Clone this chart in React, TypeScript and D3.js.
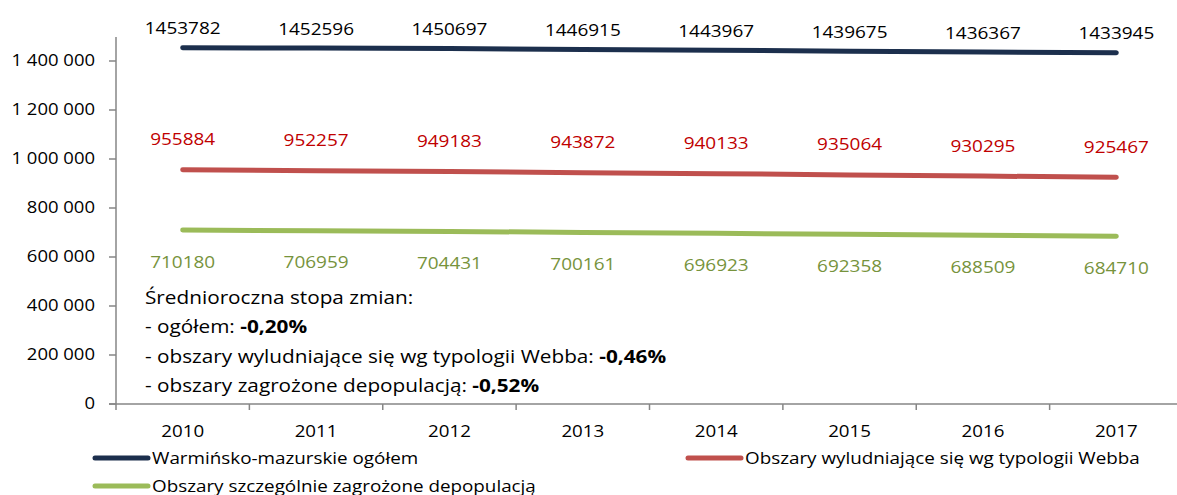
import React from 'react';
import * as d3 from 'd3';

const years = ['2010', '2011', '2012', '2013', '2014', '2015', '2016', '2017'];
const ogolem = [1453782, 1452596, 1450697, 1446915, 1443967, 1439675, 1436367, 1433945];
const webba = [955884, 952257, 949183, 943872, 940133, 935064, 930295, 925467];
const zagrozone = [710180, 706959, 704431, 700161, 696923, 692358, 688509, 684710];
const yTicks = [0, 200000, 400000, 600000, 800000, 1000000, 1200000, 1400000];

const seriesNames = [
  'Warmińsko-mazurskie ogółem',
  'Obszary wyludniające się wg typologii Webba',
  'Obszary szczególnie zagrożone depopulacją',
];
const noteLines = [
  { text: 'Średnioroczna stopa zmian:', bold: '' },
  { text: '- ogółem: ', bold: '-0,20%' },
  { text: '- obszary wyludniające się wg typologii Webba: ', bold: '-0,46%' },
  { text: '- obszary zagrożone depopulacją: ', bold: '-0,52%' },
];

const W = 1177;
const H = 495;
const font = '"Open Sans", sans-serif';
const SX = 1.2; // the reference text looks stretched sideways

// text stretched horizontally around its anchor
function T(props: { x: number; y: number; size: number; fill?: string; anchor?: string; children: any }) {
  return (
    <g transform={`translate(${props.x},${props.y}) scale(${SX},1)`}>
      <text x={0} y={0} dy="0.35em" textAnchor={props.anchor || 'start'} fontSize={props.size}
        fill={props.fill || '#000'}>{props.children}</text>
    </g>
  );
}

export default function App() {
  const x = d3.scaleBand().domain(years).range([116, 1183]);
  const y = d3.scaleLinear().domain([0, 1400000]).range([404, 61]);
  const cx = (d: string) => (x(d) || 0) + x.bandwidth() / 2;
  const fmt = (v: number) => d3.format(',')(v).replace(/,/g, ' ');

  const line = d3.line<number>()
    .x((d, i) => cx(years[i]))
    .y(d => y(d));

  const series = [
    { data: ogolem, color: '#1c2f4d', label: '#000000', dy: -19 },
    { data: webba, color: '#c0504d', label: '#c00000', dy: -30 },
    { data: zagrozone, color: '#9bbb59', label: '#77933c', dy: 32 },
  ];

  return (
    <svg width={W} height={H} style={{ position: 'absolute', left: 0, top: 0, background: '#fff' }}
      fontFamily={font}>
      {/* y axis */}
      <line x1={116} x2={116} y1={37} y2={404} stroke="#868686" strokeWidth={1.5} />
      {yTicks.map(t => (
        <g key={t}>
          <line x1={109} x2={116} y1={y(t)} y2={y(t)} stroke="#868686" strokeWidth={1.5} />
          <T x={95} y={y(t)} size={15.4} anchor="end">{fmt(t)}</T>
        </g>
      ))}
      {/* x axis */}
      <line x1={109} x2={1183} y1={404} y2={404} stroke="#868686" strokeWidth={1.5} />
      {years.map(d => (
        <g key={d}>
          <line x1={(x(d) || 0) + x.bandwidth()} x2={(x(d) || 0) + x.bandwidth()} y1={404} y2={410}
            stroke="#868686" strokeWidth={1.5} />
          <T x={cx(d)} y={432} size={15.6} anchor="middle">{d}</T>
        </g>
      ))}
      <line x1={116} x2={116} y1={404} y2={410} stroke="#868686" strokeWidth={1.5} />

      {series.map((s, si) => (
        <g key={si}>
          <path d={line(s.data) || ''} fill="none" stroke={s.color} strokeWidth={5} strokeLinecap="round" />
          {s.data.map((v, i) => (
            <T key={i} x={cx(years[i])} y={y(v) + s.dy} size={15.8} anchor="middle" fill={s.label}>{v}</T>
          ))}
        </g>
      ))}

      {noteLines.map((n, i) => (
        <T key={i} x={145} y={298 + i * 29.3} size={17.3}>
          {n.text}
          {n.bold && <tspan fontWeight="bold">{n.bold}</tspan>}
        </T>
      ))}

      {/* legend */}
      {[
        { x0: 95, yy: 458, c: series[0].color, t: seriesNames[0] },
        { x0: 688, yy: 458, c: series[1].color, t: seriesNames[1] },
        { x0: 95, yy: 486, c: series[2].color, t: seriesNames[2] },
      ].map((l, i) => (
        <g key={i}>
          <line x1={l.x0} x2={l.x0 + 53} y1={l.yy} y2={l.yy} stroke={l.c} strokeWidth={5} strokeLinecap="round" />
          <T x={l.x0 + 57} y={l.yy} size={15.7}>{l.t}</T>
        </g>
      ))}
    </svg>
  );
}
